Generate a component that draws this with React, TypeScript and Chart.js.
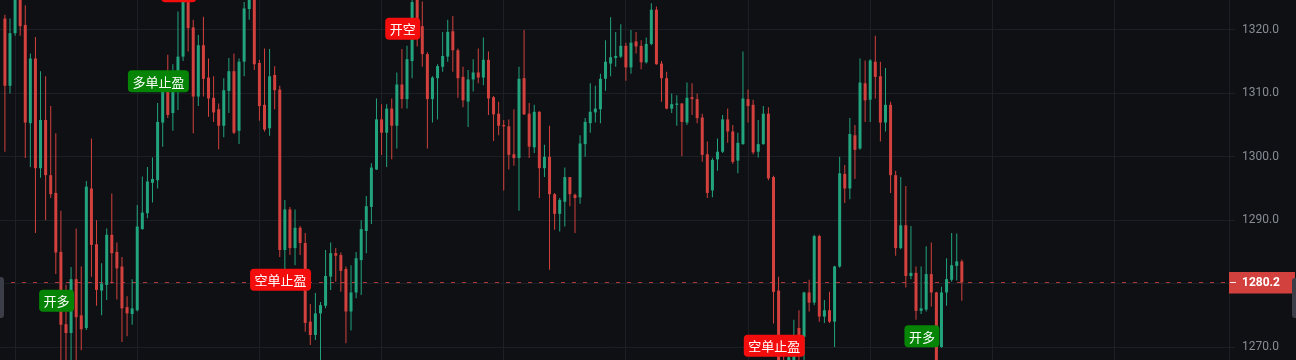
import React, { useEffect, useRef } from "react";
import { Chart, registerables } from "chart.js";

Chart.register(...registerables);

const opens = [
  1321.8, 1311.2, 1319.5, 1325.2, 1320.8, 1305.3, 1315.5, 1298.2, 1305.8, 1297.1,
  1294.3, 1285.0, 1273.6, 1272.2, 1280.7, 1275.0, 1273.0, 1295.0, 1286.2, 1278.9,
  1279.8, 1287.7, 1285.0, 1282.7, 1276.3, 1275.2, 1275.8, 1288.6, 1291.1, 1295.9,
  1296.3, 1305.4, 1310.3, 1306.9, 1310.3, 1315.8, 1325.2, 1320.4, 1309.5, 1317.6,
  1312.5, 1309.3, 1307.5, 1304.9, 1310.4, 1313.5, 1304.1, 1315.0, 1323.3, 1325.5,
  1314.8, 1308.2, 1304.5, 1312.9, 1310.6, 1285.3, 1291.7, 1285.6, 1288.8, 1286.4,
  1274.0, 1271.9, 1275.3, 1276.5, 1281.1, 1284.8, 1284.5, 1282.3, 1275.6, 1278.6,
  1283.7, 1288.3, 1292.1, 1298.0, 1305.9, 1303.8, 1307.6, 1304.9, 1311.4, 1309.1,
  1315.1, 1325.2, 1320.6, 1316.2, 1309.1, 1312.4, 1314.2, 1315.8, 1319.8, 1316.8,
  1312.6, 1308.7, 1312.2, 1313.3, 1312.5, 1315.3, 1309.4, 1306.8, 1305.0, 1304.8,
  1300.4, 1299.8, 1312.4, 1306.8, 1301.5, 1307.1, 1298.2, 1300.0, 1294.1, 1291.0,
  1292.9, 1296.8, 1294.0, 1293.6, 1302.0, 1305.3, 1307.0, 1307.5, 1312.3, 1314.7,
  1315.6, 1315.8, 1317.5, 1314.1, 1318.2, 1317.5, 1314.9, 1317.8, 1323.2, 1314.7,
  1312.4, 1307.6, 1308.2, 1308.4, 1305.4, 1309.4, 1309.1, 1306.2, 1300.4, 1294.7,
  1299.6, 1300.8, 1305.9, 1304.0, 1299.4, 1302.0, 1309.1, 1308.2, 1300.8, 1302.0,
  1306.8, 1296.8, 1278.9, 1267.6, 1265.6, 1266.4, 1273.0, 1271.6, 1278.6, 1277.0,
  1287.5, 1274.8, 1275.8, 1274.0, 1282.7, 1297.3, 1295.0, 1303.4, 1301.3, 1311.6,
  1309.0, 1315.0, 1312.7, 1305.4, 1308.2, 1297.1, 1285.6, 1289.2, 1281.2, 1281.7,
  1275.7, 1275.9, 1281.5, 1278.6, 1270.0, 1278.6, 1280.6, 1282.8, 1283.5,
];

const highs = [
  1322.4, 1321.8, 1327.1, 1326.3, 1323.9, 1316.3, 1318.9, 1313.5, 1312.7, 1308.0,
  1303.7, 1291.5, 1279.8, 1282.6, 1288.7, 1282.7, 1296.2, 1302.9, 1290.0, 1283.2,
  1288.7, 1294.2, 1286.5, 1284.2, 1278.0, 1280.7, 1292.4, 1296.9, 1298.4, 1299.9,
  1308.5, 1311.6, 1316.1, 1314.6, 1322.9, 1327.1, 1326.3, 1321.6, 1319.2, 1322.1,
  1315.5, 1312.7, 1308.4, 1312.4, 1315.6, 1316.3, 1315.5, 1324.4, 1327.1, 1327.1,
  1315.3, 1317.1, 1317.0, 1314.3, 1311.2, 1293.2, 1292.1, 1291.7, 1289.1, 1288.0,
  1276.8, 1278.5, 1277.1, 1285.3, 1286.5, 1285.6, 1284.9, 1282.7, 1282.9, 1285.0,
  1290.0, 1293.8, 1299.0, 1309.2, 1308.3, 1308.3, 1309.2, 1313.3, 1317.0, 1317.5,
  1326.0, 1326.3, 1324.5, 1316.5, 1312.7, 1314.6, 1319.7, 1321.6, 1322.2, 1317.1,
  1314.2, 1313.7, 1315.4, 1317.1, 1318.8, 1316.6, 1309.6, 1308.7, 1305.8, 1305.9,
  1307.5, 1314.2, 1320.0, 1308.5, 1308.2, 1307.2, 1301.9, 1304.9, 1294.3, 1293.5,
  1298.3, 1296.8, 1294.2, 1303.4, 1306.1, 1311.6, 1311.2, 1313.1, 1318.4, 1322.0,
  1319.7, 1320.9, 1318.0, 1320.0, 1319.7, 1318.4, 1318.8, 1324.2, 1323.7, 1315.1,
  1313.4, 1310.0, 1309.7, 1308.5, 1311.7, 1311.6, 1310.0, 1306.8, 1302.4, 1299.8,
  1302.9, 1306.6, 1307.6, 1305.0, 1303.8, 1316.6, 1310.6, 1309.0, 1305.8, 1308.0,
  1307.8, 1297.0, 1281.1, 1268.7, 1269.2, 1274.3, 1275.8, 1278.7, 1280.6, 1287.7,
  1287.7, 1277.4, 1278.7, 1282.8, 1300.0, 1298.7, 1306.1, 1305.0, 1315.5, 1315.2,
  1315.4, 1319.1, 1315.0, 1314.0, 1308.7, 1297.8, 1296.8, 1295.4, 1289.1, 1282.7,
  1282.7, 1285.9, 1286.5, 1278.7, 1279.5, 1284.0, 1288.0, 1287.9, 1283.8,
];

const lows = [
  1300.8, 1310.0, 1319.1, 1319.1, 1299.8, 1298.4, 1288.0, 1296.7, 1290.0, 1293.5,
  1281.5, 1267.2, 1266.4, 1267.2, 1267.6, 1269.5, 1272.7, 1281.1, 1276.5, 1275.0,
  1277.4, 1280.0, 1277.5, 1270.8, 1271.7, 1273.5, 1275.6, 1288.5, 1290.3, 1292.8,
  1295.0, 1301.6, 1306.1, 1304.1, 1307.4, 1315.1, 1316.6, 1303.7, 1308.0, 1309.5,
  1306.3, 1305.5, 1301.2, 1303.1, 1306.9, 1303.6, 1302.0, 1312.7, 1321.6, 1313.7,
  1305.7, 1304.0, 1303.3, 1307.5, 1284.2, 1282.2, 1284.5, 1282.9, 1284.5, 1272.4,
  1270.3, 1271.1, 1267.2, 1276.1, 1279.0, 1280.3, 1278.7, 1270.6, 1272.6, 1277.7,
  1278.2, 1284.8, 1289.4, 1297.9, 1300.3, 1298.4, 1299.6, 1301.3, 1307.6, 1307.6,
  1312.4, 1317.4, 1314.2, 1301.3, 1305.4, 1305.9, 1313.4, 1315.0, 1313.4, 1309.3,
  1307.8, 1304.7, 1310.3, 1311.6, 1311.3, 1306.6, 1302.5, 1303.4, 1294.7, 1298.0,
  1298.6, 1291.5, 1306.6, 1299.8, 1300.6, 1293.5, 1296.8, 1282.2, 1288.5, 1288.2,
  1289.0, 1292.2, 1288.0, 1292.6, 1300.0, 1303.8, 1305.4, 1305.3, 1310.4, 1312.7,
  1314.2, 1315.6, 1312.0, 1313.1, 1316.3, 1313.8, 1314.7, 1317.6, 1314.5, 1308.7,
  1307.5, 1306.9, 1304.9, 1300.1, 1305.0, 1306.6, 1305.3, 1299.2, 1293.5, 1293.6,
  1297.8, 1300.6, 1302.2, 1298.9, 1297.4, 1301.9, 1305.4, 1300.4, 1299.9, 1301.9,
  1296.3, 1273.7, 1266.1, 1264.8, 1264.8, 1266.1, 1267.2, 1267.6, 1275.6, 1276.6,
  1274.0, 1273.8, 1273.8, 1270.0, 1282.5, 1292.7, 1293.3, 1296.5, 1301.1, 1305.5,
  1305.5, 1309.2, 1302.4, 1304.0, 1294.3, 1284.4, 1285.4, 1279.4, 1280.7, 1274.3,
  1275.2, 1275.6, 1276.4, 1266.1, 1269.9, 1276.5, 1280.3, 1280.5, 1277.3,
];

const closes = [
  1311.2, 1319.5, 1325.5, 1320.6, 1305.4, 1315.5, 1298.2, 1305.8, 1297.1, 1294.1,
  1284.9, 1273.5, 1272.2, 1280.7, 1274.7, 1272.8, 1295.3, 1286.1, 1279.0, 1280.0,
  1287.7, 1284.8, 1282.4, 1276.1, 1275.3, 1276.1, 1289.0, 1291.2, 1296.1, 1296.5,
  1305.5, 1310.3, 1306.6, 1310.3, 1315.8, 1326.0, 1320.3, 1309.5, 1317.6, 1312.3,
  1309.2, 1307.0, 1304.9, 1310.5, 1313.5, 1303.8, 1315.0, 1323.4, 1326.0, 1314.6,
  1308.0, 1304.3, 1312.7, 1310.5, 1285.3, 1291.7, 1285.6, 1288.8, 1286.4, 1273.8,
  1271.9, 1275.3, 1276.6, 1281.2, 1284.8, 1284.4, 1282.0, 1275.6, 1278.6, 1284.0,
  1288.6, 1292.2, 1298.3, 1305.9, 1303.8, 1307.6, 1304.9, 1311.4, 1309.1, 1315.4,
  1324.4, 1321.8, 1316.2, 1309.1, 1312.5, 1314.3, 1315.9, 1319.7, 1316.8, 1312.4,
  1308.9, 1312.2, 1313.3, 1312.5, 1315.3, 1309.2, 1306.7, 1304.9, 1304.8, 1300.3,
  1299.8, 1312.3, 1306.7, 1301.6, 1307.1, 1298.2, 1300.0, 1294.1, 1291.0, 1293.2,
  1296.8, 1294.1, 1293.5, 1302.1, 1305.5, 1307.1, 1307.6, 1312.3, 1315.0, 1315.7,
  1315.9, 1317.5, 1314.1, 1318.0, 1317.4, 1314.9, 1317.8, 1323.2, 1314.6, 1312.4,
  1307.6, 1308.3, 1308.4, 1305.5, 1309.3, 1309.1, 1306.1, 1300.3, 1294.3, 1299.5,
  1300.8, 1305.9, 1304.0, 1299.2, 1302.2, 1309.2, 1308.0, 1300.7, 1302.0, 1306.8,
  1296.6, 1278.7, 1267.6, 1265.6, 1268.4, 1271.1, 1269.5, 1278.6, 1277.0, 1287.5,
  1274.8, 1275.8, 1274.0, 1282.7, 1297.4, 1295.0, 1303.6, 1301.1, 1311.7, 1308.9,
  1315.2, 1312.6, 1305.4, 1308.2, 1297.1, 1285.6, 1289.2, 1281.2, 1281.7, 1275.7,
  1276.1, 1281.5, 1278.6, 1267.2, 1278.6, 1280.7, 1282.9, 1283.5, 1280.2,
];

const priceTicks = [1270, 1280, 1290, 1300, 1310, 1320];
const timeGridIdx = [14, 38, 62, 86, 110, 134, 158, 182, 206, 230];

const markerIdx = [10, 30, 34, 54, 78, 151, 180];
const markerText = ["开多", "多单止盈", "开空", "空单止盈", "开空", "空单止盈", "开多"];
const markerPrice = [1277.3, 1311.9, 1326.1, 1280.6, 1320.2, 1270.2, 1271.7];
const markerSide = ["long", "long", "short", "short", "short", "short", "long"];

const lastPrice = 1280.2;
const yMin = 1267.95;
const yMax = 1324.73;
const xMin = -0.963;
const xMax = 240.49;

const UP = "#22a47e";
const DOWN = "#d3413e";
const BG = "#0e1013";
const GRID = "#1c1f25";
const TICK = "#878c96";

const overlay = {
  id: "overlay",
  beforeDatasetsDraw(chart: any) {
    const { ctx, chartArea, scales } = chart;
    const py = Math.round(scales.y.getPixelForValue(lastPrice)) + 0.5;
    ctx.save();
    ctx.strokeStyle = "rgba(205,62,60,0.85)";
    ctx.lineWidth = 1;
    ctx.setLineDash([4, 7]);
    ctx.beginPath();
    ctx.moveTo(chartArea.left, py);
    ctx.lineTo(chartArea.right, py);
    ctx.stroke();
    ctx.restore();
  },
  afterDatasetsDraw(chart: any) {
    const { ctx, scales } = chart;
    ctx.save();
    ctx.font = '13px "Noto Sans CJK SC", sans-serif';
    ctx.textAlign = "center";
    ctx.textBaseline = "middle";
    for (let k = 0; k < markerIdx.length; k++) {
      const cx = scales.x.getPixelForValue(markerIdx[k]) + 0.8;
      const cy = scales.y.getPixelForValue(markerPrice[k]);
      const w = ctx.measureText(markerText[k]).width + 9;
      const h = 22;
      ctx.fillStyle = markerSide[k] === "long" ? "#058405" : "#f40d0d";
      ctx.beginPath();
      ctx.roundRect(cx - w / 2, cy - h / 2, w, h, 4);
      ctx.fill();
      ctx.fillStyle = "#ffffff";
      ctx.fillText(markerText[k], cx, cy + 0.5);
    }
    ctx.restore();
  },
  afterDraw(chart: any) {
    const { ctx, chartArea, scales, width } = chart;
    const py = Math.round(scales.y.getPixelForValue(lastPrice)) + 0.5;
    ctx.save();
    ctx.fillStyle = DOWN;
    ctx.fillRect(chartArea.right, py - 10.5, width - 1 - chartArea.right, 21.5);
    ctx.strokeStyle = "#f2f2f2";
    ctx.lineWidth = 1;
    ctx.beginPath();
    ctx.moveTo(chartArea.right + 1, py);
    ctx.lineTo(chartArea.right + 7, py);
    ctx.stroke();
    ctx.fillStyle = "#ffffff";
    ctx.font = 'bold 12px "Roboto", sans-serif';
    ctx.textAlign = "left";
    ctx.textBaseline = "middle";
    ctx.fillText(lastPrice.toFixed(1), chartArea.right + 13, py + 0.5);
    // side handles
    ctx.fillStyle = "#3b3e46";
    ctx.beginPath();
    ctx.roundRect(0, 277, 4, 41, [0, 3, 3, 0]);
    ctx.fill();
    ctx.beginPath();
    ctx.roundRect(width - 4, 278, 4, 40, [3, 0, 0, 3]);
    ctx.fill();
    ctx.restore();
  },
};

export default function App() {
  const ref = useRef<HTMLCanvasElement>(null);
  useEffect(() => {
    document.body.style.margin = "0";
    document.body.style.background = BG;
    const idx = opens.map((_, i) => i);
    const colors = idx.map((i) => (closes[i] >= opens[i] ? UP : DOWN));
    const chart = new Chart(ref.current as HTMLCanvasElement, {
      type: "bar",
      data: {
        datasets: [
          {
            label: "wick",
            data: idx.map((i) => ({ x: i, y: [lows[i], highs[i]] })) as any,
            backgroundColor: colors,
            borderWidth: 0,
            grouped: false,
            maxBarThickness: 1,
            order: 2,
          } as any,
          {
            label: "body",
            data: idx.map((i) => ({ x: i, y: [opens[i], closes[i]] })) as any,
            backgroundColor: colors,
            borderWidth: 0,
            grouped: false,
            maxBarThickness: 3,
            minBarLength: 1,
            order: 1,
          } as any,
        ],
      },
      options: {
        animation: false,
        responsive: true,
        maintainAspectRatio: false,
        events: [],
        layout: { padding: 0 },
        plugins: { legend: { display: false }, tooltip: { enabled: false } },
        scales: {
          x: {
            type: "linear",
            min: xMin,
            max: xMax,
            offset: false,
            grid: { color: GRID, drawTicks: false, lineWidth: 1 },
            border: { display: false },
            ticks: { display: false },
            afterBuildTicks: (s: any) => {
              s.ticks = timeGridIdx.map((v) => ({ value: v }));
            },
            afterFit: (s: any) => {
              s.height = 0;
              s.paddingLeft = 0;
              s.paddingRight = 0;
            },
          },
          y: {
            position: "right",
            min: yMin,
            max: yMax,
            grid: { color: GRID, drawTicks: true, tickLength: 6, tickColor: GRID },
            border: { display: true, color: GRID },
            ticks: {
              color: TICK,
              font: { family: "Roboto", size: 12 },
              padding: 7,
              callback: (v: any) => Number(v).toFixed(1),
            },
            afterBuildTicks: (s: any) => {
              s.ticks = priceTicks.map((v) => ({ value: v }));
            },
            afterFit: (s: any) => {
              s.width = 67;
              s.paddingTop = 0;
              s.paddingBottom = 0;
            },
          },
        } as any,
      },
      plugins: [overlay],
    });
    return () => chart.destroy();
  }, []);
  return (
    <div style={{ position: "fixed", left: 0, top: 0, width: 1296, height: 360, background: BG }}>
      <canvas ref={ref} />
    </div>
  );
}
